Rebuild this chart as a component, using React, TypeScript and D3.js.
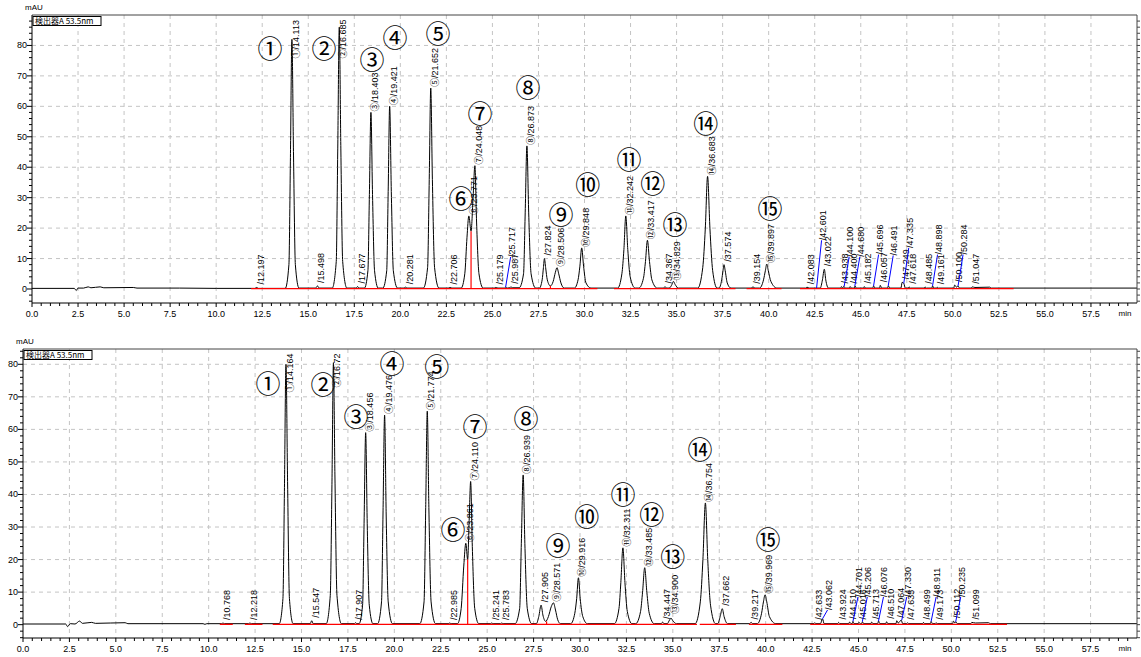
import * as d3 from 'd3';

// chromatogram traces: [time (min), signal (mAU)]
const topTrace: [number, number][] = [
  [0, 0.2], [2.3, 0.2], [2.4, -0.5], [2.5, 0.3], [2.8, 0.3], [3.05, 0.7], [3.2, 0.4], [3.7, 0.7], [3.9, 0.4],
  [5.5, 0.5], [5.7, 0.3], [8, 0.3], [10, 0.2], [12.1, 0.2], [12.2, 0.5], [12.3, 0.2],
  [13.75, 0.2], [13.95, 8], [14.03, 42], [14.113, 82], [14.2, 44], [14.3, 8], [14.5, 0.3],
  [15.4, 0.3], [15.5, 1.0], [15.6, 0.3],
  [16.3, 0.3], [16.52, 9], [16.6, 45], [16.685, 86], [16.77, 46], [16.87, 9], [17.1, 0.3],
  [17.6, 0.3], [17.68, 0.8], [17.76, 0.3],
  [18.05, 0.3], [18.24, 6], [18.32, 31], [18.403, 58], [18.49, 31], [18.6, 6], [18.8, 0.3],
  [19.05, 0.3], [19.26, 6], [19.34, 32], [19.421, 60], [19.51, 32], [19.62, 6], [19.85, 0.3],
  [20.2, 0.3], [20.28, 0.6], [20.36, 0.3],
  [21.25, 0.3], [21.48, 7], [21.57, 36], [21.652, 66], [21.74, 36], [21.86, 7], [22.1, 0.3],
  [22.6, 0.3], [22.7, 0.5], [22.8, 0.3],
  [23.3, 0.3], [23.5, 5], [23.62, 17], [23.72, 24], [23.84, 19], [23.95, 30], [24.048, 40.5], [24.14, 22], [24.27, 5], [24.5, 0.3],
  [25.1, 0.3], [25.18, 0.5], [25.3, 0.3], [25.65, 0.3], [25.72, 0.6], [25.8, 0.3], [25.95, 0.4], [26.0, 0.7], [26.1, 0.4],
  [26.45, 0.4], [26.69, 5], [26.78, 25], [26.873, 47], [26.97, 25], [27.1, 5], [27.35, 0.3],
  [27.55, 0.3], [27.7, 3], [27.77, 7], [27.824, 10], [27.89, 7], [27.98, 3], [28.15, 1],
  [28.3, 2.5], [28.42, 5.5], [28.506, 7], [28.6, 5], [28.72, 2], [28.9, 0.3],
  [29.45, 0.3], [29.65, 3], [29.75, 7.5], [29.848, 13.5], [29.95, 7.5], [30.08, 2], [30.35, 0.3],
  [31.8, 0.3], [32.03, 5], [32.14, 13], [32.242, 24], [32.35, 13], [32.48, 4], [32.75, 0.3],
  [32.95, 0.3], [33.2, 3.5], [33.31, 9], [33.417, 16], [33.53, 9], [33.66, 3], [33.95, 0.3],
  [34.3, 0.3], [34.37, 0.8], [34.45, 0.3],
  [34.6, 0.3], [34.75, 1.5], [34.829, 2.5], [34.92, 1.5], [35.1, 0.3],
  [36.15, 0.3], [36.42, 7], [36.56, 20], [36.683, 37], [36.81, 20], [36.96, 6], [37.2, 0.3],
  [37.3, 0.3], [37.45, 3], [37.52, 6], [37.574, 8], [37.64, 6], [37.75, 2], [37.95, 0.3],
  [39.05, 0.3], [39.15, 0.7], [39.25, 0.3],
  [39.5, 0.3], [39.72, 3], [39.82, 6], [39.897, 8.2], [39.98, 6], [40.12, 2.5], [40.45, 0.3],
  [42.0, 0.3], [42.08, 0.6], [42.2, 0.3],
  [42.8, 0.3], [42.92, 3], [43.022, 6.5], [43.1, 3], [43.25, 0.3],
  [43.9, 0.3], [43.95, 0.8], [44.02, 0.3], [44.08, 0.9], [44.16, 0.3],
  [44.38, 0.3], [44.42, 0.8], [44.5, 0.3], [44.65, 0.3], [44.69, 1.0], [44.76, 0.3],
  [45.15, 0.3], [45.19, 0.8], [45.26, 0.3], [45.65, 0.3], [45.7, 1.0], [45.78, 0.3],
  [46.02, 0.3], [46.06, 1.2], [46.14, 0.3], [46.45, 0.3], [46.5, 1.0], [46.58, 0.3],
  [47.18, 0.3], [47.25, 2.2], [47.34, 1.8], [47.42, 0.3], [47.58, 0.3], [47.62, 0.7], [47.7, 0.3],
  [48.45, 0.3], [48.49, 0.7], [48.56, 0.3], [48.86, 0.3], [48.9, 1.0], [48.97, 0.3], [49.12, 0.3], [49.16, 0.6], [49.22, 0.3],
  [50.05, 0.3], [50.1, 1.3], [50.2, 0.6], [50.28, 1.0], [50.36, 0.3],
  [51.0, 0.3], [51.05, 0.7], [51.2, 0.5], [52.0, 0.6], [52.1, 0.3], [60, 0.3],
];

const bottomTrace: [number, number][] = [
  [0, 0.2], [2.3, 0.2], [2.4, -0.6], [2.55, 0.3], [2.8, 0.2], [3.05, 1.1], [3.2, 0.4], [3.7, 0.7], [3.9, 0.4],
  [5.5, 0.6], [5.65, 0.3], [9.7, 0.3], [9.8, 0.1], [9.9, 0.3],
  [10.7, 0.3], [10.77, 0.5], [10.85, 0.3], [12.15, 0.3], [12.22, 0.5], [12.3, 0.3],
  [13.8, 0.3], [14.0, 8], [14.08, 41], [14.164, 80], [14.25, 44], [14.35, 8], [14.55, 0.3],
  [15.47, 0.3], [15.55, 1.2], [15.63, 0.3],
  [16.33, 0.3], [16.55, 9], [16.64, 43], [16.72, 80.5], [16.8, 46], [16.91, 9], [17.15, 0.3],
  [17.85, 0.3], [17.91, 0.6], [17.98, 0.3],
  [18.1, 0.3], [18.29, 6], [18.37, 31], [18.456, 59], [18.54, 31], [18.65, 6], [18.85, 0.3],
  [19.1, 0.3], [19.31, 7], [19.39, 34], [19.476, 64.4], [19.56, 34], [19.67, 7], [19.9, 0.3],
  [21.37, 0.3], [21.6, 7], [21.69, 36], [21.774, 65.6], [21.86, 36], [21.98, 7], [22.22, 0.3],
  [22.9, 0.3], [22.98, 0.5], [23.06, 0.3],
  [23.4, 0.3], [23.6, 5], [23.74, 18], [23.85, 25], [23.95, 20], [24.03, 32], [24.11, 44], [24.2, 24], [24.33, 5], [24.55, 0.3],
  [25.17, 0.3], [25.24, 0.5], [25.32, 0.3], [25.72, 0.3], [25.78, 0.5], [25.86, 0.3],
  [26.5, 0.3], [26.75, 5], [26.84, 25], [26.939, 46], [27.03, 25], [27.16, 5], [27.4, 0.3],
  [27.65, 0.3], [27.78, 2.5], [27.905, 6], [28.0, 3], [28.15, 1],
  [28.3, 2.5], [28.45, 5.5], [28.571, 6.7], [28.68, 4.5], [28.8, 1.5], [28.95, 0.3],
  [29.5, 0.3], [29.72, 3.5], [29.82, 8], [29.916, 14.4], [30.01, 8], [30.15, 2.5], [30.4, 0.3],
  [31.85, 0.3], [32.1, 5], [32.2, 13], [32.311, 23.6], [32.42, 13], [32.55, 4], [32.8, 0.3],
  [33.0, 0.3], [33.26, 4], [33.37, 10], [33.485, 17.5], [33.6, 10], [33.73, 3.5], [34.0, 0.3],
  [34.38, 0.3], [34.45, 0.8], [34.52, 0.3],
  [34.7, 0.3], [34.82, 1.4], [34.9, 2], [35.0, 1.2], [35.2, 0.3],
  [36.2, 0.3], [36.48, 7], [36.62, 20], [36.754, 37.4], [36.88, 20], [37.03, 6], [37.3, 0.3],
  [37.42, 0.3], [37.55, 2.5], [37.662, 4.9], [37.76, 2.5], [37.95, 0.3],
  [39.12, 0.3], [39.22, 0.7], [39.3, 0.3],
  [39.55, 0.3], [39.78, 3.5], [39.88, 7], [39.969, 9.2], [40.06, 7], [40.2, 2.5], [40.55, 0.3],
  [42.6, 0.3], [42.64, 0.6], [42.7, 0.3], [42.95, 0.3], [43.06, 1.8], [43.15, 0.3],
  [43.88, 0.3], [43.93, 0.7], [44.0, 0.3], [44.48, 0.3], [44.52, 0.8], [44.6, 0.3], [44.66, 0.3], [44.7, 1.0], [44.76, 0.3],
  [44.98, 0.3], [45.02, 0.7], [45.1, 0.3], [45.17, 0.3], [45.21, 0.9], [45.28, 0.3],
  [45.67, 0.3], [45.71, 0.8], [45.78, 0.3], [46.03, 0.3], [46.08, 1.1], [46.15, 0.3], [46.47, 0.3], [46.51, 0.9], [46.58, 0.3],
  [47.02, 0.3], [47.06, 1.2], [47.14, 0.5], [47.3, 1.4], [47.38, 0.3], [47.6, 0.3], [47.64, 0.6], [47.7, 0.3],
  [48.46, 0.3], [48.5, 0.7], [48.56, 0.3], [48.87, 0.3], [48.91, 1.0], [48.98, 0.3], [49.13, 0.3], [49.17, 0.6], [49.24, 0.3],
  [50.07, 0.3], [50.11, 1.1], [50.19, 0.5], [50.24, 0.9], [50.32, 0.3],
  [51.05, 0.3], [51.1, 0.7], [51.3, 0.5], [52.0, 0.6], [52.1, 0.3], [60, 0.3],
];

// peak labels: retention time, compound number (0 = unnumbered), peak height, label lift (0 = none)
const topRt = ['12.197', '14.113', '15.498', '16.685', '17.677', '18.403', '19.421', '20.281', '21.652', '22.706',
  '23.771', '24.048', '25.179', '25.717', '25.987', '26.873', '27.824', '28.506', '29.848', '32.242',
  '33.417', '34.367', '34.829', '36.683', '37.574', '39.154', '39.897', '42.083', '42.601', '43.022',
  '43.938', '44.100', '44.400', '44.680', '45.182', '45.696', '46.057', '46.491', '47.249', '47.335',
  '47.618', '48.485', '48.898', '49.161', '50.100', '50.284', '51.047'];
const topNum = [0, 1, 0, 2, 0, 3, 4, 0, 5, 0, 6, 7, 0, 0, 0, 8, 0, 9, 10, 11, 12, 0, 13, 14, 0, 0, 15,
  0, 0, 0, 0, 0, 0, 0, 0, 0, 0, 0, 0, 0, 0, 0, 0, 0, 0, 0, 0];
const topHeight = [0.5, 82, 1.0, 86, 0.8, 58, 60, 0.6, 66, 0.5, 24, 40.5, 0.5, 0.6, 0.7, 47, 10, 7, 13.5, 24,
  16, 0.8, 2.5, 37, 8, 0.7, 8.2, 0.6, 0.3, 6.5, 0.8, 0.9, 0.8, 1.0, 0.8, 1.0, 1.2, 1.0, 2.2, 1.8,
  0.7, 0.7, 1.0, 0.6, 1.3, 1.0, 0.7];
const topLift = [0, 0, 0, 0, 0, 0, 0, 0, 0, 0, 0, 0, 0, 10.5, 0, 0, 0, 0, 0, 0,
  0, 0, 0, 0, 0, 0, 0, 0, 16, 0, 0, 10.6, 0, 10.6, 0, 11.3, 0, 11, 0, 13.5,
  0, 0, 11.3, 0, 0, 11.3, 0];

const bottomRt = ['10.768', '12.218', '14.164', '15.547', '16.72', '17.907', '18.456', '19.476', '21.774', '22.985',
  '23.861', '24.110', '25.241', '25.783', '26.939', '27.905', '28.571', '29.916', '32.311', '33.485',
  '34.447', '34.900', '36.754', '37.662', '39.217', '39.969', '42.633', '43.062', '43.924', '44.510',
  '44.701', '45.016', '45.206', '45.713', '46.076', '46.510', '47.064', '47.330', '47.635', '48.499',
  '48.911', '49.173', '50.112', '50.235', '51.099'];
const bottomNum = [0, 0, 1, 0, 2, 0, 3, 4, 5, 0, 6, 7, 0, 0, 8, 0, 9, 10, 11, 12, 0, 13, 14, 0, 0, 15,
  0, 0, 0, 0, 0, 0, 0, 0, 0, 0, 0, 0, 0, 0, 0, 0, 0, 0, 0];
const bottomHeight = [0.5, 0.5, 80, 1.2, 80.5, 0.6, 59, 64.4, 65.6, 0.5, 25, 44, 0.5, 0.5, 46, 6, 6.7, 14.4, 23.6, 17.5,
  0.8, 3, 37.4, 4.9, 0.7, 9.2, 0.6, 1.8, 0.7, 0.8, 1.0, 0.7, 0.9, 0.8, 1.1, 0.9, 1.2, 1.4, 0.6, 0.7,
  1.0, 0.6, 1.1, 0.9, 0.7];
const bottomLift = [0, 0, 0, 0, 0, 0, 0, 0, 0, 0, 0, 0, 0, 0, 0, 0, 0, 0, 0, 0,
  0, 0, 0, 0, 0, 0, 0, 4.5, 0, 0, 8.5, 0, 8.5, 0, 8.5, 0, 0, 8.5, 0, 0,
  8.5, 0, 0, 8.5, 0];

// where the big circled compound numbers sit, in data units
const topCircleT = [12.92, 15.85, 18.46, 19.71, 22.04, 23.29, 24.32, 26.93, 28.72, 30.18, 32.41, 33.71, 34.91, 36.59, 40.07];
const topCircleV = [79.6, 79.6, 76, 83.2, 84.5, 30.3, 58.2, 66.8, 25.1, 34.9, 43.1, 35.2, 21.8, 54.9, 27];
const bottomCircleT = [13.19, 16.16, 17.93, 19.87, 22.29, 23.16, 24.34, 27.09, 28.81, 30.37, 32.31, 33.87, 35.0, 36.46, 40.12];
const bottomCircleV = [74.5, 74.2, 64.4, 80.7, 79.8, 29.8, 61.3, 63.8, 24.8, 33.7, 40.5, 34.4, 21.5, 54.3, 26.7];

// red integration baselines [from, to] and red drop lines [time, height]
const topBaselines = [[11.9, 30.7], [31.6, 38.2], [38.8, 40.7], [41.7, 53.3]];
const bottomBaselines = [[10.6, 11.3], [11.95, 12.9], [13.45, 36.3], [36.45, 38.4], [39.1, 40.9], [42.4, 53.0]];
const topDrops = [[23.84, 19], [28.15, 1]];
const bottomDrops = [[23.95, 20], [28.2, 1]];

const xTicks = d3.range(0, 58, 2.5);
const yTicks = d3.range(0, 81, 10);

const circled = (n: number) => String.fromCharCode(0x2460 + n - 1);
const labelFont = "'Liberation Sans', 'Noto Sans CJK JP', sans-serif";

function Panel({ id, box, yDomain, trace, rt, num, height, lift, circT, circV, baselines, drops }: any) {
  const x = d3.scaleLinear().domain([0, 60]).range([box.left, box.right]);
  const y = d3.scaleLinear().domain(yDomain).range([box.bottom, box.top]);
  const line = d3.line<[number, number]>()
    .x(d => x(d[0]))
    .y(d => y(d[1]))
    .curve(d3.curveMonotoneX);

  const minorX = d3.range(0, 60, 0.5);
  const minorY = d3.range(Math.ceil(yDomain[0] / 2) * 2, yDomain[1], 2);

  return (
    <g>
      <defs>
        <clipPath id={`clip-${id}`}>
          <rect x={box.left} y={box.top} width={box.right - box.left} height={box.bottom - box.top} />
        </clipPath>
      </defs>

      {/* dashed grid */}
      {xTicks.filter(t => t > 0).map(t => (
        <line key={'gx' + t} x1={x(t)} x2={x(t)} y1={box.top} y2={box.bottom}
          stroke="#c4c4c4" strokeDasharray="4 4" />
      ))}
      {yTicks.filter(v => v > 0).map(v => (
        <line key={'gy' + v} x1={box.left} x2={box.right} y1={y(v)} y2={y(v)}
          stroke="#c4c4c4" strokeDasharray="4 4" />
      ))}

      {/* trace */}
      <g clipPath={`url(#clip-${id})`}>
        <path d={line(trace) || ''} fill="none" stroke="#000" strokeWidth={1} />
        {baselines.map((b: number[], i: number) => (
          <line key={'rb' + i} x1={x(b[0])} x2={x(b[1])} y1={y(0.1)} y2={y(0.1)} stroke="#ff0000" strokeWidth={1.3} />
        ))}
        {drops.map((d: number[], i: number) => (
          <line key={'rd' + i} x1={x(d[0])} x2={x(d[0])} y1={y(0)} y2={y(d[1])} stroke="#ff0000" strokeWidth={1.2} />
        ))}
      </g>

      {/* peak labels */}
      {rt.map((r: string, i: number) => {
        const t = +r;
        const hasNum = num[i] > 0;
        const text = (hasNum ? circled(num[i]) : '') + '/' + r;
        const len = r.length * 4.9 + 3 + (hasNum ? 9 : 0);
        let lx = x(t) + 7;
        let sy = y(height[i]) - (hasNum ? 1 : 3);
        let leader = null;
        if (lift[i] > 0) {
          const tx = x(t) + 5;
          leader = <line x1={x(t)} y1={y(height[i])} x2={tx} y2={y(lift[i])} stroke="#0000ff" strokeWidth={1} />;
          lx = tx + 4;
          sy = y(lift[i]);
        }
        sy = Math.max(sy, box.top + len + 2);
        return (
          <g key={'lb' + i}>
            {leader}
            <text transform={`translate(${lx},${sy}) rotate(-90)`} fontSize={9} fontFamily={labelFont} fill="#000">
              {text}
            </text>
          </g>
        );
      })}

      {/* compound numbers */}
      {circT.map((t: number, i: number) => (
        <text key={'cn' + i} x={x(t)} y={y(circV[i])} textAnchor="middle" dominantBaseline="central"
          fontSize={25} fontFamily="'Noto Sans CJK JP', serif" fill="#000">
          {circled(i + 1)}
        </text>
      ))}

      {/* frame */}
      <line x1={box.left} x2={box.right} y1={box.top} y2={box.top} stroke="#444" />
      <line x1={box.right} x2={box.right} y1={box.top} y2={box.bottom} stroke="#444" />
      <line x1={box.left} x2={box.right} y1={box.bottom} y2={box.bottom} stroke="#000" />
      <line x1={box.left} x2={box.left} y1={box.top} y2={box.bottom} stroke="#000" />

      {/* x axis */}
      {minorX.map(t => (
        <line key={'mx' + t} x1={x(t)} x2={x(t)} y1={box.bottom} y2={box.bottom + (t % 2.5 === 0 ? 4 : 3)} stroke="#000" />
      ))}
      {xTicks.map(t => (
        <text key={'tx' + t} x={x(t)} y={box.bottom + 14} textAnchor="middle" fontSize={9} fontFamily={labelFont}>
          {t.toFixed(1)}
        </text>
      ))}
      <text x={1125} y={box.bottom + 13} textAnchor="middle" fontSize={8} fontFamily={labelFont}>min</text>

      {/* y axis */}
      {minorY.map(v => (
        <g key={'my' + v}>
          <line x1={box.left - (v % 10 === 0 ? 5 : 3)} x2={box.left} y1={y(v)} y2={y(v)} stroke="#000" />
          <line x1={box.right} x2={box.right + 3} y1={y(v)} y2={y(v)} stroke="#444" />
        </g>
      ))}
      {yTicks.map(v => (
        <text key={'ty' + v} x={box.left - 5} y={y(v) + 3} textAnchor="end" fontSize={9} fontFamily={labelFont}>
          {v}
        </text>
      ))}
      <text x={box.left - 7} y={box.top - 5} fontSize={8} fontFamily={labelFont}>mAU</text>

      {/* detector legend */}
      <rect x={box.left + 1} y={box.top + 1.5} width={68} height={9} fill="#fff" stroke="#000" />
      <text x={box.left + 3} y={box.top + 9} fontSize={8} fontFamily="'Noto Sans CJK JP', sans-serif">
        検出器A 53.5nm
      </text>
    </g>
  );
}

export default function App() {
  return (
    <svg width={1141} height={657} style={{ position: 'absolute', left: 0, top: 0, background: '#fff' }}>
      <rect width={1141} height={657} fill="#fff" />
      <Panel id="top" box={{ left: 32, right: 1137, top: 15, bottom: 303 }} yDomain={[-4.6, 90]}
        trace={topTrace} rt={topRt} num={topNum} height={topHeight} lift={topLift}
        circT={topCircleT} circV={topCircleV} baselines={topBaselines} drops={topDrops} />
      <Panel id="bottom" box={{ left: 23, right: 1137, top: 349, bottom: 638 }} yDomain={[-4.1, 84.7]}
        trace={bottomTrace} rt={bottomRt} num={bottomNum} height={bottomHeight} lift={bottomLift}
        circT={bottomCircleT} circV={bottomCircleV} baselines={bottomBaselines} drops={bottomDrops} />
    </svg>
  );
}
